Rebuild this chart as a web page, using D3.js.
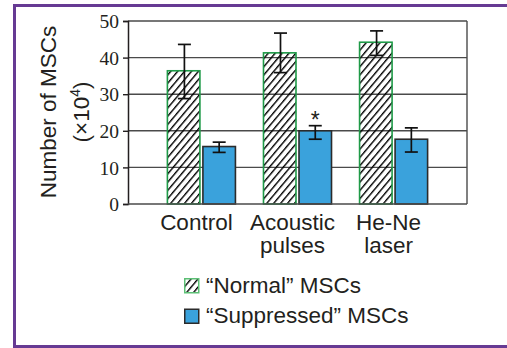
<!DOCTYPE html>
<html lang="en">
<head>
<meta charset="UTF-8">
<title>Number of MSCs</title>
<script src="https://d3js.org/d3.v7.min.js"></script>
<style>
  body { margin: 0; background: #fff; }
  svg { display: block; }
  .sans { font-family: "Liberation Sans", Arial, sans-serif; fill: #231f20; }
  .serif { font-family: "Liberation Serif", "Times New Roman", serif; fill: #231f20; }
</style>
</head>
<body>
<svg width="507" height="348"></svg>
<script>
// data
const categories = ["Control", "Acoustic pulses", "He-Ne laser"];
const catLines = [["Control"], ["Acoustic", "pulses"], ["He-Ne", "laser"]];
const series = ["Normal", "Suppressed"];
const legendLabels = ["\u201cNormal\u201d MSCs", "\u201cSuppressed\u201d MSCs"];
const normalVals = [36.4, 41.3, 44.2];
const normalLo = [28.8, 35.9, 40.6];
const normalHi = [43.6, 46.7, 47.3];
const suppVals = [15.7, 20.0, 17.7];
const suppLo = [14.1, 17.7, 14.2];
const suppHi = [16.9, 21.4, 20.8];
const yTicks = [0, 10, 20, 30, 40, 50];
const starred = ["Acoustic pulses"];

const svg = d3.select("svg");
const purple = "#663a93";
const blue = "#3aa2dc";
const green = "#1f9a48";
const grid = "#4a4a4a";

// frame
svg.append("path")
  .attr("d", "M507,5.5 H14.5 V346.5 H507")
  .attr("fill", "none")
  .attr("stroke", purple)
  .attr("stroke-width", 3);

// hatch pattern
const defs = svg.append("defs");
defs.append("pattern")
  .attr("id", "hatch")
  .attr("patternUnits", "userSpaceOnUse")
  .attr("width", 5.3).attr("height", 5.3)
  .attr("patternTransform", "rotate(40)")
  .append("line")
  .attr("x1", 0.7).attr("y1", 0).attr("x2", 0.7).attr("y2", 5.3)
  .attr("stroke", "#000").attr("stroke-width", 1.4);

const pL = 128, pR = 467, pT = 21, pB = 204;

const y = d3.scaleLinear().domain([0, 50]).range([pB, pT]);
const x0 = d3.scaleBand().domain(categories).range([pL, pR])
  .paddingInner(0.292).paddingOuter(0.41);
const x1 = d3.scaleBand().domain(series).range([0, x0.bandwidth()]);

// gridlines
svg.append("g").selectAll("line")
  .data(yTicks.filter(t => t > 0))
  .enter().append("line")
  .attr("x1", pL).attr("x2", pR)
  .attr("y1", d => y(d)).attr("y2", d => y(d))
  .attr("stroke", grid).attr("stroke-width", 1.4);

// right edge of plot
svg.append("line")
  .attr("x1", pR).attr("x2", pR).attr("y1", pT).attr("y2", pB)
  .attr("stroke", grid).attr("stroke-width", 1.4);

// y axis
const yAxis = svg.append("g")
  .attr("transform", `translate(${pL},0)`)
  .call(d3.axisLeft(y).tickValues(yTicks).tickSize(5).tickPadding(4))
  .attr("font-family", "'Liberation Serif', 'Times New Roman', serif")
  .attr("font-size", 19.5);
yAxis.select(".domain").attr("stroke", "#231f20").attr("stroke-width", 1.5);
yAxis.selectAll(".tick line").attr("stroke", "#231f20").attr("stroke-width", 1.4);
yAxis.selectAll(".tick text")
  .attr("fill", "#231f20")
  .attr("dy", "0.34em");

// bars
const rows = categories.map((c, i) => ({
  cat: c,
  bars: [
    { s: "Normal", v: normalVals[i], lo: normalLo[i], hi: normalHi[i] },
    { s: "Suppressed", v: suppVals[i], lo: suppLo[i], hi: suppHi[i] }
  ]
}));

const groups = svg.append("g").selectAll("g")
  .data(rows).enter().append("g")
  .attr("transform", d => `translate(${x0(d.cat)},0)`);

groups.selectAll("rect")
  .data(d => d.bars).enter().append("rect")
  .attr("x", d => x1(d.s) + (d.s === "Normal" ? 0 : 1.5))
  .attr("width", x1.bandwidth() - 1.5)
  .attr("y", d => y(d.v))
  .attr("height", d => y(0) - y(d.v))
  .attr("fill", d => d.s === "Normal" ? "url(#hatch)" : blue)
  .attr("stroke", d => d.s === "Normal" ? green : "#2b2b2b")
  .attr("stroke-width", 1.6);

// baseline over bars
svg.append("line")
  .attr("x1", pL).attr("x2", pR).attr("y1", pB).attr("y2", pB)
  .attr("stroke", grid).attr("stroke-width", 1.5);

// error bars
const cap = 6.5;
const eb = groups.selectAll("g.err")
  .data(d => d.bars).enter().append("g")
  .attr("class", "err")
  .attr("stroke", "#111").attr("stroke-width", 1.7);
const cx = d => x1(d.s) + x1.bandwidth() / 2 + (d.s === "Normal" ? 0 : 0.75);
eb.append("line")
  .attr("x1", cx).attr("x2", cx)
  .attr("y1", d => y(d.lo)).attr("y2", d => y(d.hi));
eb.append("line")
  .attr("x1", d => cx(d) - cap).attr("x2", d => cx(d) + cap)
  .attr("y1", d => y(d.hi)).attr("y2", d => y(d.hi));
eb.append("line")
  .attr("x1", d => cx(d) - cap).attr("x2", d => cx(d) + cap)
  .attr("y1", d => y(d.lo)).attr("y2", d => y(d.lo));

// significance mark
groups.filter(d => starred.includes(d.cat))
  .append("text")
  .attr("class", "sans")
  .attr("x", x1("Suppressed") + x1.bandwidth() / 2 + 0.75)
  .attr("y", d => y(d.bars[1].hi) + 2)
  .attr("text-anchor", "middle")
  .attr("font-size", 23)
  .text("*");

// x labels
svg.append("g").selectAll("text")
  .data(categories).enter().append("text")
  .attr("class", "sans")
  .attr("text-anchor", "middle")
  .attr("font-size", 22.5)
  .attr("x", d => x0(d) + x0.bandwidth() / 2 - 5)
  .attr("y", 229.5)
  .selectAll("tspan")
  .data((d, i) => catLines[i]).enter().append("tspan")
  .attr("x", function () { return d3.select(this.parentNode).attr("x"); })
  .attr("dy", (d, i) => i === 0 ? 0 : 23.5)
  .text(d => d);

// y title
const yt = svg.append("text")
  .attr("class", "sans")
  .attr("font-size", 22.5)
  .attr("text-anchor", "middle")
  .attr("transform", "translate(56,112) rotate(-90)");
yt.append("tspan").attr("x", 0).attr("y", 0).text("Number of MSCs");
const yt2 = yt.append("tspan").attr("x", 0).attr("y", 33);
yt2.text("(\u00d710");
yt2.append("tspan").attr("font-size", 14).attr("dy", -9).text("4");
yt2.append("tspan").attr("dy", 9).text(")");

// legend
const legend = svg.append("g").attr("transform", "translate(184,278)");
const li = legend.selectAll("g").data(series).enter().append("g")
  .attr("transform", (d, i) => `translate(0,${i * 30.5})`);
li.append("rect")
  .attr("x", 0.75).attr("y", 0.75)
  .attr("width", 14).attr("height", 14)
  .attr("fill", d => d === "Normal" ? "url(#hatch)" : blue)
  .attr("stroke", d => d === "Normal" ? "#5cbf75" : "#2b2b2b")
  .attr("stroke-width", 1.5);
li.append("text")
  .attr("class", "sans")
  .attr("x", 22).attr("y", 14.5)
  .attr("font-size", 22.5)
  .text((d, i) => legendLabels[i]);
</script>
</body>
</html>
